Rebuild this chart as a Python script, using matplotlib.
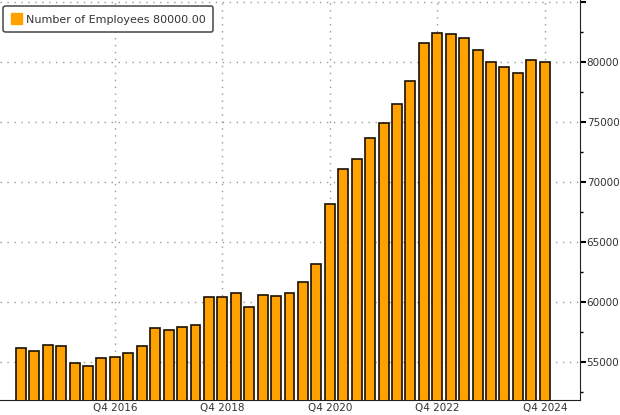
import matplotlib.pyplot as plt
from matplotlib.patches import Patch

# quarterly headcount, Q1 2015 .. Q4 2024
quarters = [f"Q{q} {y}" for y in range(2015, 2025) for q in range(1, 5)]
employees = [56170, 55890, 56390, 56310, 54870, 54620, 55330, 55420,
             55700, 56310, 57790, 57670, 57920, 58060, 60430, 60430,
             60740, 59590, 60570, 60510, 60740, 61680, 63130, 68170,
             71070, 71900, 73710, 74910, 76540, 78440, 81610, 82470,
             82340, 82050, 81000, 80000, 79610, 79110, 80200, 80000]
tick_labels = ["Q4 2016", "Q4 2018", "Q4 2020", "Q4 2022", "Q4 2024"]
y_labels = ["55000", "60000", "65000", "70000", "75000", "80000", ""]

bar_color = "#FFA100"
text_color = "#333333"

fig = plt.figure(figsize=(6.2, 4.15), dpi=100)
ax = fig.add_axes([0.0, 0.036, 0.935, 0.964])

x = list(range(len(quarters)))
ax.bar(x, employees, width=0.74, color=bar_color, edgecolor="#1a1000",
       linewidth=1.2, zorder=3)

ax.set_xlim(-1.55, 41.6)
ax.set_ylim(51800, 85200)

ticks = [quarters.index(t) for t in tick_labels]
ax.set_xticks(ticks)
ax.set_xticklabels(tick_labels, fontsize=7.5, color=text_color)
ax.tick_params(axis="x", length=0, pad=2)

ax.yaxis.tick_right()
ax.set_yticks(range(55000, 85001, 5000))
ax.set_yticklabels(y_labels)
ax.set_yticks(range(52500, 85001, 2500), minor=True)
ax.tick_params(axis="y", which="major", direction="out", length=4, width=1.5,
               labelsize=7.5, labelcolor=text_color, pad=1)
ax.tick_params(axis="y", which="minor", direction="out", length=2, width=1)

ax.grid(True, which="major", color="#999999", linestyle=(0, (1, 4)),
        linewidth=1, zorder=0)

for s in ["top", "left"]:
    ax.spines[s].set_visible(False)
ax.spines["right"].set_color("#222222")
ax.spines["bottom"].set_color("#222222")

handle = Patch(facecolor=bar_color, edgecolor=bar_color)
leg = ax.legend([handle], [f"Number of Employees {employees[-1]:.2f}"],
                loc="upper left", bbox_to_anchor=(0.002, 0.99), fontsize=8,
                handlelength=1.0, handleheight=1.1, handletextpad=0.4,
                borderpad=0.65, borderaxespad=0.2, fancybox=True,
                framealpha=1, edgecolor="#555555")
leg.get_frame().set_linewidth(1.2)
for t in leg.get_texts():
    t.set_color(text_color)

fig.savefig("out.png", dpi=100)
